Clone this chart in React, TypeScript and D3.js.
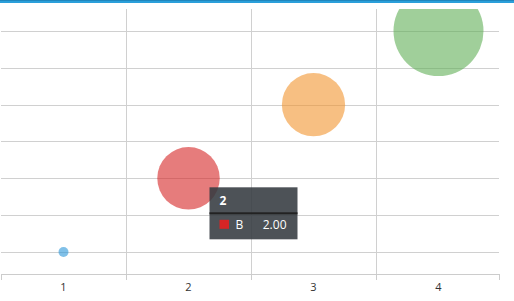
import React from "react";
import * as d3 from "d3";

const categories = ["1", "2", "3", "4"];
const seriesNames = ["A", "B", "C", "D"];
const yValues = [1, 2, 3, 4];
const sizes = [1, 39, 40, 81];
const colors = ["#2b96d9", "#d52525", "#f2942f", "#61af57"];
const yTicks = [1, 1.5, 2, 2.5, 3, 3.5, 4];
const tooltipIndex = 1;

const W = 514;
const H = 301;

export default function App() {
  const left = 1, right = 499, top = 9, bottom = 274;
  const x = d3.scaleBand<string>().domain(categories).range([1, 501]);
  const y = d3.scaleLinear().domain([0.7, 4.3]).range([bottom, top]);
  const r = d3.scaleSqrt().domain([0, 81]).range([0, 45]);
  const cx = (c: string) => (x(c) as number) + x.bandwidth() / 2;
  const boundaries = categories.map((c) => x(c) as number).concat([right]);

  const ti = tooltipIndex;
  const px = cx(categories[ti]);
  const py = y(yValues[ti]);
  const tx = px + 21;
  const ty = py + 9;
  const tw = 88;
  const th = 52;

  return (
    <svg width={W} height={H} style={{ position: "absolute", left: 0, top: 0, fontFamily: "'Open Sans', sans-serif" }}>
      <defs>
        <clipPath id="plot">
          <rect x={left} y={top} width={right - left} height={bottom - top} />
        </clipPath>
      </defs>
      <rect x={0} y={0} width={W} height={H} fill="#fff" />
      <rect x={0} y={0} width={W} height={3} fill="#2a9fda" />
      <rect x={0} y={0} width={W} height={1} fill="#1f86bd" />
      {/* horizontal grid */}
      {yTicks.map((t) => (
        <line key={"h" + t} x1={left} x2={right} y1={Math.round(y(t)) + 0.5} y2={Math.round(y(t)) + 0.5} stroke="#d0d0d0" strokeWidth={1} />
      ))}
      {/* vertical grid */}
      {boundaries.slice(1, categories.length).map((b, i) => (
        <line key={"v" + i} x1={Math.round(b) + 0.5} x2={Math.round(b) + 0.5} y1={top} y2={bottom} stroke="#d0d0d0" strokeWidth={1} />
      ))}
      {/* axis */}
      <line x1={left} x2={right} y1={bottom + 0.5} y2={bottom + 0.5} stroke="#cccccc" />
      {boundaries.map((b, i) => (
        <line key={"t" + i} x1={Math.round(b) + 0.5} x2={Math.round(b) + 0.5} y1={bottom} y2={bottom + 6} stroke="#cccccc" />
      ))}
      {categories.map((c) => (
        <text key={"l" + c} x={cx(c)} y={291} textAnchor="middle" fontSize={11} fill="#333">
          {c}
        </text>
      ))}
      {/* bubbles */}
      <g clipPath="url(#plot)">
        {categories.map((c, i) => (
          <circle key={"c" + c} cx={cx(c)} cy={y(yValues[i])} r={r(sizes[i])} fill={colors[i]} fillOpacity={0.6} />
        ))}
      </g>
      {/* tooltip */}
      <g>
        <rect x={tx} y={ty} width={tw} height={th} fill="rgb(52,58,64)" fillOpacity={0.88} />
        <text x={tx + 10} y={ty + 18} fontSize={12} fontWeight="bold" fill="#fff">
          {categories[ti]}
        </text>
        <rect x={tx} y={ty + 25} width={tw} height={2} fill="#222" />
        <rect x={tx + 10} y={ty + 32.5} width={9.5} height={9} fill={colors[ti]} />
        <text x={tx + 26} y={ty + 41.5} fontSize={12} fill="#fff">
          {seriesNames[ti]}
        </text>
        <text x={tx + tw - 11} y={ty + 41.5} fontSize={12} fill="#fff" textAnchor="end">
          {yValues[ti].toFixed(2)}
        </text>
      </g>
    </svg>
  );
}
